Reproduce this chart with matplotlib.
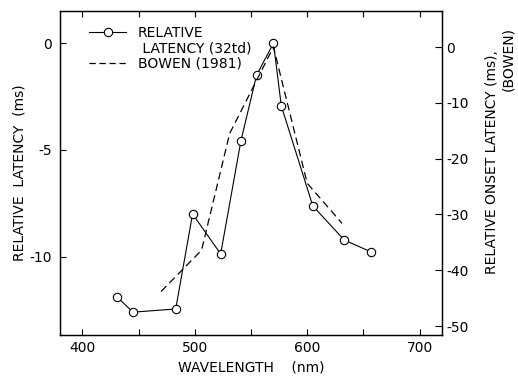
import matplotlib
matplotlib.use("Agg")
import matplotlib.pyplot as plt
from matplotlib.lines import Line2D

# relative latency at 32 td (left axis, ms)
wavelength = [431, 445, 483, 498, 523, 541, 555, 570, 577, 605, 633, 657]
latency = [-11.9, -12.6, -12.45, -8.0, -9.87, -4.58, -1.49, 0.0, -2.94, -7.62, -9.22, -9.78]

# Bowen (1981) relative onset latency (right axis, ms)
bowen_wl = [470, 506, 531, 570, 600, 631]
bowen_lat = [-43.8, -36.4, -15.5, 0.0, -24.4, -31.6]

plt.rcParams["font.family"] = ["DejaVu Sans"]
plt.rcParams["axes.unicode_minus"] = False
plt.rcParams["font.size"] = 10

fig = plt.figure(figsize=(5.18, 3.78), dpi=100)
ax = fig.add_axes([60 / 518, 43 / 378, 382 / 518, 324 / 378])
ax2 = ax.twinx()

ax.plot(wavelength, latency, "-", color="black", lw=0.8, marker="o",
        ms=6, mfc="white", mec="black", mew=0.8)
ax2.plot(bowen_wl, bowen_lat, color="black", lw=0.9, dashes=(6, 3.5))

ax.set_xlim(380, 720)
ax.set_ylim(-13.67, 1.51)
ax2.set_ylim(-51.6, 6.45)

ax.set_xticks([400, 500, 600, 700])
ax.set_xticks([450, 550, 650], minor=True)
ax.set_yticks([0, -5, -10])
ax2.set_yticks([0, -10, -20, -30, -40, -50])

ax.tick_params(axis="x", which="both", direction="in", length=4, width=0.8,
               top=True, pad=4)
ax.tick_params(axis="y", direction="in", length=4, width=0.8, pad=6)
ax2.tick_params(axis="y", direction="in", length=5, width=0.8, pad=3)

for a in (ax, ax2):
    for s in a.spines.values():
        s.set_linewidth(0.9)

ax.set_xlabel("WAVELENGTH    (nm)", labelpad=4)
ax.set_ylabel("RELATIVE  LATENCY  (ms)", labelpad=2)
fig.text(492 / 518, 1 - 162 / 378, "RELATIVE ONSET LATENCY (ms),",
         rotation=90, ha="center", va="center")
fig.text(508 / 518, 1 - 27 / 378, "(BOWEN)", rotation=90, ha="center", va="top")

handles = [
    Line2D([], [], color="black", lw=0.8, marker="o", ms=6, mfc="white",
           mec="black", mew=0.8),
    Line2D([], [], linestyle="none"),
    Line2D([], [], color="black", lw=0.9, dashes=(5, 3)),
]
ax.legend(handles, ["RELATIVE", " LATENCY (32td)", "BOWEN (1981)"],
          loc="upper left", frameon=False, numpoints=1, handlelength=2.6,
          handletextpad=0.9, labelspacing=0.12, borderaxespad=0.65,
          bbox_to_anchor=(0.039, 1.0))

fig.savefig("out.png", dpi=100)
